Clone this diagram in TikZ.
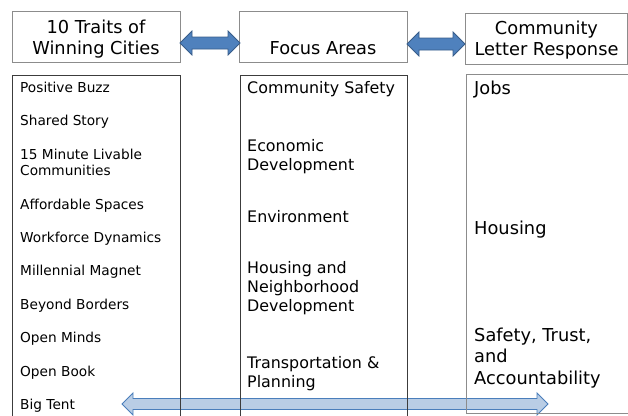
\documentclass[tikz,border=0pt]{standalone}
\usepackage{fontspec}
\setmainfont{DejaVu Sans}
\usetikzlibrary{calc}
\definecolor{hdrfill}{HTML}{4F81BD}
\definecolor{hdrline}{HTML}{385D8A}
\definecolor{lowfill}{HTML}{B9CDE5}
\definecolor{lowline}{HTML}{4A7EBB}
\definecolor{hdrbox}{HTML}{8C8C8C}
\definecolor{bodybox}{HTML}{3C3C3C}
\newcommand\DblArrow[7]{%
  \draw[#1] (#2,#4) -- (#2+#5,#4-#6) -- (#2+#5,#4-#7) -- (#3-#5,#4-#7)
    -- (#3-#5,#4-#6) -- (#3,#4) -- (#3-#5,#4+#6) -- (#3-#5,#4+#7)
    -- (#2+#5,#4+#7) -- (#2+#5,#4+#6) -- cycle;}
\tikzset{
  hdrboxst/.style={draw=hdrbox, line width=0.8pt, anchor=north west, inner sep=0pt},
  bodyboxst/.style={draw=bodybox, line width=0.8pt, anchor=north west, inner sep=0pt},
  hdrtext/.style={font=\fontsize{17.8}{21}\selectfont, align=center, anchor=base, inner sep=0pt},
  lefttext/.style={font=\fontsize{13.7}{16}\selectfont, align=left, anchor=base west, inner sep=0pt},
  midtext/.style={font=\fontsize{15.9}{18.8}\selectfont, align=left, anchor=base west, inner sep=0pt},
  righttext/.style={font=\fontsize{17.8}{21.2}\selectfont, align=left, anchor=base west, inner sep=0pt},
  hdrarrow/.style={fill=hdrfill, draw=hdrline, line width=0.8pt, line join=miter},
  lowarrow/.style={fill=lowfill, draw=lowline, line width=0.9pt, line join=miter},
}
\begin{document}
\begin{tikzpicture}[x=1pt,y=-1pt]
\useasboundingbox (0,0) rectangle (628,415);
% bottom long arrow (drawn first, box lines cross over it)
\DblArrow{lowarrow}{122}{548}{404}{11}{11}{5.5}
% header boxes
\node[hdrboxst, minimum width=168, minimum height=51] (h1) at (12,11) {};
\node[hdrboxst, minimum width=168, minimum height=51] (h2) at (239,11) {};
\node[hdrboxst, minimum width=162, minimum height=51] (h3) at (465,13) {};
% body boxes
\node[bodyboxst, minimum width=168, minimum height=350] (b1) at (12,75) {};
\node[bodyboxst, minimum width=167, minimum height=350] (b2) at (240,75) {};
\draw[draw=hdrbox, line width=0.8pt] (640,74) -| (466,413) -- (640,413);
\coordinate (b3) at (466,74);
% header arrows
\DblArrow{hdrarrow}{180}{240}{43}{12}{12}{6}
\DblArrow{hdrarrow}{407}{465}{44}{12}{12}{6}
% header texts (base = baseline of last line)
\node[hdrtext] (t1) at (96,54) {10 Traits of\\Winning Cities};
\node[hdrtext] (t2) at (323,54) {Focus Areas};
\node[hdrtext] (t3) at (546.5,55) {Community\\Letter Response};
% left column
\node[lefttext] (l1) at (20,92) {Positive Buzz};
\node[lefttext] (l2) at (20,125.5) {Shared Story};
\node[lefttext] (l3) at (20,175) {15 Minute Livable\\Communities};
\node[lefttext] (l4) at (20,209) {Affordable Spaces};
\node[lefttext] (l5) at (20,242) {Workforce Dynamics};
\node[lefttext] (l6) at (20,275.5) {Millennial Magnet};
\node[lefttext] (l7) at (20,309) {Beyond Borders};
\node[lefttext] (l8) at (20,342.5) {Open Minds};
\node[lefttext] (l9) at (20,376) {Open Book};
\node[lefttext] (l10) at (20,409.5) {Big Tent};
% middle column
\node[midtext] (m1) at (247,93) {Community Safety};
\node[midtext] (m2) at (247,170) {Economic\\Development};
\node[midtext] (m3) at (247,222) {Environment};
\node[midtext] (m4) at (247,311.5) {Housing and\\Neighborhood\\Development};
\node[midtext] (m5) at (247,387.5) {Transportation \&\\Planning};
% right column
\node[righttext] (r1) at (474,94) {Jobs};
\node[righttext] (r2) at (474,234) {Housing};
\node[righttext] (r3) at (474,384) {Safety, Trust,\\and\\Accountability};
\end{tikzpicture}
\end{document}
